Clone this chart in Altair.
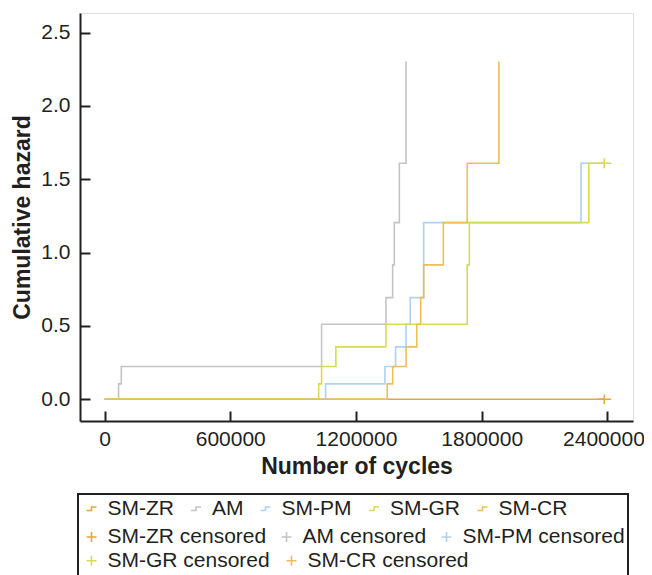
import altair as alt
import pandas as pd

# ---- data ----
series_names = ["SM-ZR", "AM", "SM-PM", "SM-GR", "SM-CR"]
series_colors = ["#e4a73b", "#c4c4c4", "#aed2f0", "#d8db52", "#ecbe55"]

zr_cycles = [0, 2385000]
zr_hazard = [0.0, 0.0]
am_cycles = [0, 67000, 80000, 1036000, 1343000, 1375000, 1383000, 1407000, 1439000]
am_hazard = [0.0, 0.105, 0.223, 0.511, 0.693, 0.916, 1.204, 1.609, 2.303]
pm_cycles = [0, 1055000, 1338000, 1389000, 1439000, 1459000, 1523000, 2274000, 2385000]
pm_hazard = [0.0, 0.105, 0.223, 0.357, 0.511, 0.693, 1.204, 1.609, 1.609]
gr_cycles = [0, 1022000, 1036000, 1104000, 1343000, 1731000, 1741000, 2311000, 2385000]
gr_hazard = [0.0, 0.105, 0.223, 0.357, 0.511, 0.916, 1.204, 1.609, 1.609]
cr_cycles = [0, 1349000, 1375000, 1439000, 1490000, 1509000, 1523000, 1617000, 1731000, 1882000]
cr_hazard = [0.0, 0.105, 0.223, 0.357, 0.511, 0.693, 0.916, 1.204, 1.609, 2.303]

censored_series = ["SM-ZR", "SM-GR"]
censored_cycles = [2385000, 2385000]
censored_hazard = [0.0, 1.609]

x_ticks = [0, 600000, 1200000, 1800000, 2400000]
y_ticks = [0.0, 0.5, 1.0, 1.5, 2.0, 2.5]

# ---- build tables ----
rows = []
for name, cyc, haz in [("SM-ZR", zr_cycles, zr_hazard), ("AM", am_cycles, am_hazard),
                       ("SM-PM", pm_cycles, pm_hazard), ("SM-GR", gr_cycles, gr_hazard),
                       ("SM-CR", cr_cycles, cr_hazard)]:
    for i, (c, h) in enumerate(zip(cyc, haz)):
        rows.append({"series": name, "cycles": c, "hazard": h, "idx": i})
line_df = pd.DataFrame(rows)

cens_labels = [n + " censored" for n in series_names]
cens_df = pd.DataFrame({
    "label": [s + " censored" for s in censored_series],
    "cycles": censored_cycles,
    "hazard": censored_hazard,
})
# legend rows as in the reference: 3 entries, then 2 entries
row2_labels, row2_colors = cens_labels[:3], series_colors[:3]
row3_labels, row3_colors = cens_labels[3:], series_colors[3:]
cens_row2 = cens_df[cens_df["label"].isin(row2_labels)]
cens_row3 = cens_df[cens_df["label"].isin(row3_labels)]

INK = "#231f20"
FONT = "Liberation Sans"
STEP = "M-1,0.35H0V-0.35H1"
PLUS = "M-1,0H1M0,-1V1"
PLUS_WIDE = "M-1,0H1M0,-0.7V0.7"

x_scale = alt.Scale(domain=[-117000, 2522000], nice=False, zero=False)
y_scale = alt.Scale(domain=[-0.148, 2.633], nice=False, zero=False)

x_axis = alt.Axis(
    values=x_ticks, format="d", title="Number of cycles",
    titleFontSize=23, titleFontWeight="bold", titleColor=INK, titleFont=FONT,
    titleY=45, titleBaseline="middle",
    labelFontSize=21, labelColor=INK, labelFont=FONT, labelPadding=17,
    labelFlush=False, labelOverlap=False,
    labelOffset={"condition": {"test": "datum.value >= 2400000", "value": -4}, "value": 0},
    tickSize=alt.ExprRef(expr="-10"), tickWidth=2, tickColor=INK,
    domainColor=INK, domainWidth=2, grid=False,
)
y_axis = alt.Axis(
    values=y_ticks, format=".1f", title="Cumulative hazard",
    titleFontSize=23, titleFontWeight="bold", titleColor=INK, titleFont=FONT,
    titleX=-58, titleY=204, titleBaseline="middle", titleAngle=270,
    labelFontSize=21, labelColor=INK, labelFont=FONT, labelPadding=20,
    labelFlush=False, labelOverlap=False,
    tickSize=alt.ExprRef(expr="-10"), tickWidth=2, tickColor=INK,
    domainColor=INK, domainWidth=2, grid=False,
)

legend_common = dict(
    direction="horizontal", symbolSize=100, symbolStrokeWidth=1.6,
    symbolFillColor="transparent",
    labelFontSize=21, labelFont=FONT, labelColor=INK, labelLimit=300,
    labelOffset=5.5,
)

lines = alt.Chart(line_df).mark_line(interpolate="step-after", strokeWidth=1.6).encode(
    x=alt.X("cycles:Q", scale=x_scale, axis=x_axis),
    y=alt.Y("hazard:Q", scale=y_scale, axis=y_axis),
    stroke=alt.Stroke(
        "series:N",
        scale=alt.Scale(domain=series_names, range=series_colors),
        sort=series_names,
        legend=alt.Legend(
            title=None, orient="none", legendX=1, legendY=485, columns=5,
            symbolType=STEP, padding=0, columnPadding=11.5, **legend_common,
        ),
    ),
    order=alt.Order("idx:Q"),
)

cens2 = alt.Chart(cens_row2).mark_point(
    shape=PLUS_WIDE, size=196, filled=False, strokeWidth=1.6, opacity=1
).encode(
    x=alt.X("cycles:Q"),
    y=alt.Y("hazard:Q"),
    stroke=alt.Stroke(
        "label:N",
        scale=alt.Scale(domain=row2_labels, range=row2_colors),
        sort=row2_labels,
        legend=alt.Legend(
            title=None, orient="none", legendX=-2, legendY=481, columns=3,
            clipHeight=80, symbolType=PLUS, padding=3, strokeColor=INK,
            columnPadding=9, **legend_common,
        ),
    ),
)

cens3 = alt.Chart(cens_row3).mark_point(
    shape=PLUS_WIDE, size=196, filled=False, strokeWidth=1.6, opacity=1
).encode(
    x=alt.X("cycles:Q"),
    y=alt.Y("hazard:Q"),
    stroke=alt.Stroke(
        "label:N",
        scale=alt.Scale(domain=row3_labels, range=row3_colors),
        sort=row3_labels,
        legend=alt.Legend(
            title=None, orient="none", legendX=1, legendY=537, columns=2,
            symbolType=PLUS, padding=0, columnPadding=11, **legend_common,
        ),
    ),
)

chart = alt.layer(lines, cens2, cens3).resolve_scale(
    stroke="independent"
).resolve_legend(
    stroke="independent"
).properties(
    width=553, height=408,
    autosize=alt.AutoSizeParams(type="none"),
    padding={"left": 72, "top": 5, "right": 11, "bottom": 170},
).configure_view(stroke=None).configure(font=FONT).configure_legend(strokeWidth=2)

chart.save("out.html", embed_options={"renderer": "svg", "actions": False})
